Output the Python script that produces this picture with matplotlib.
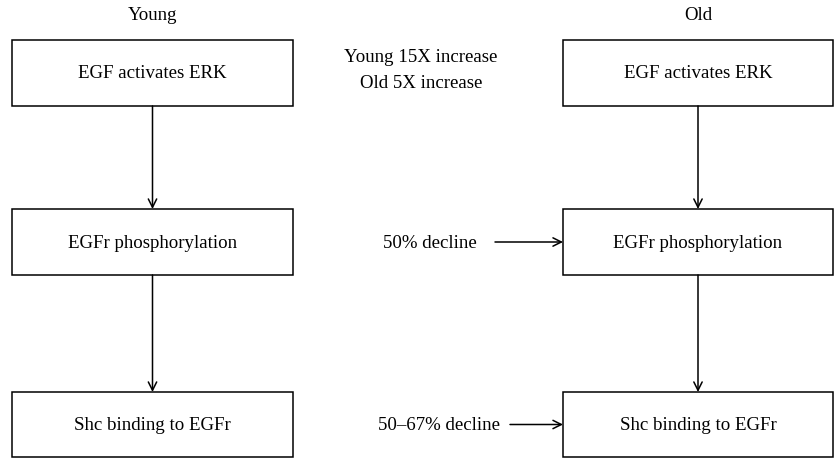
import matplotlib
matplotlib.use("Agg")
import matplotlib.pyplot as plt
from matplotlib.patches import Rectangle

plt.rcParams['font.family'] = ['Liberation Serif', 'DejaVu Serif']

W, H = 834, 458
columns = ["Young", "Old"]
steps = ["EGF activates ERK", "EGFr phosphorylation", "Shc binding to EGFr"]
increase_notes = ["Young 15X increase", "Old 5X increase"]
decline_notes = ["50% decline", "50\u201367% decline"]

# layout (pixels)
col_x = [(12, 293), (563, 833)]
row_y = [(40, 106), (209, 275), (392, 457)]

fig = plt.figure(figsize=(W / 100, H / 100), dpi=100)
ax = fig.add_axes([0, 0, 1, 1])
ax.set_xlim(0, W)
ax.set_ylim(H, 0)
ax.axis('off')

fs = 13.6
lw = 1.1
arrow_kw = dict(arrowstyle='->,head_length=0.6,head_width=0.3', color='black', lw=lw,
                shrinkA=0, shrinkB=0)

for ci, (x0, x1) in enumerate(col_x):
    cx = (x0 + x1) / 2
    ax.text(cx, 15, columns[ci], ha='center', va='center', fontsize=fs)
    for ri, (y0, y1) in enumerate(row_y):
        ax.add_patch(Rectangle((x0, y0), x1 - x0, y1 - y0, fill=False, ec='black', lw=lw))
        ax.text(cx, (y0 + y1) / 2 + 1, steps[ri], ha='center', va='center', fontsize=fs)
        if ri < len(row_y) - 1:
            ax.annotate('', xy=(cx, row_y[ri + 1][0]), xytext=(cx, y1), arrowprops=arrow_kw)

# middle annotations
ax.text(421, 58, increase_notes[0], ha='center', va='center', fontsize=fs)
ax.text(421, 84, increase_notes[1], ha='center', va='center', fontsize=fs)

for ri, note, tx, x_start in [(1, decline_notes[0], 430, 495), (2, decline_notes[1], 439, 510)]:
    ym = (row_y[ri][0] + row_y[ri][1]) / 2
    ax.text(tx, ym + 1, note, ha='center', va='center', fontsize=fs)
    ax.annotate('', xy=(col_x[1][0], ym), xytext=(x_start, ym), arrowprops=arrow_kw)

fig.savefig('out.png', dpi=100)
